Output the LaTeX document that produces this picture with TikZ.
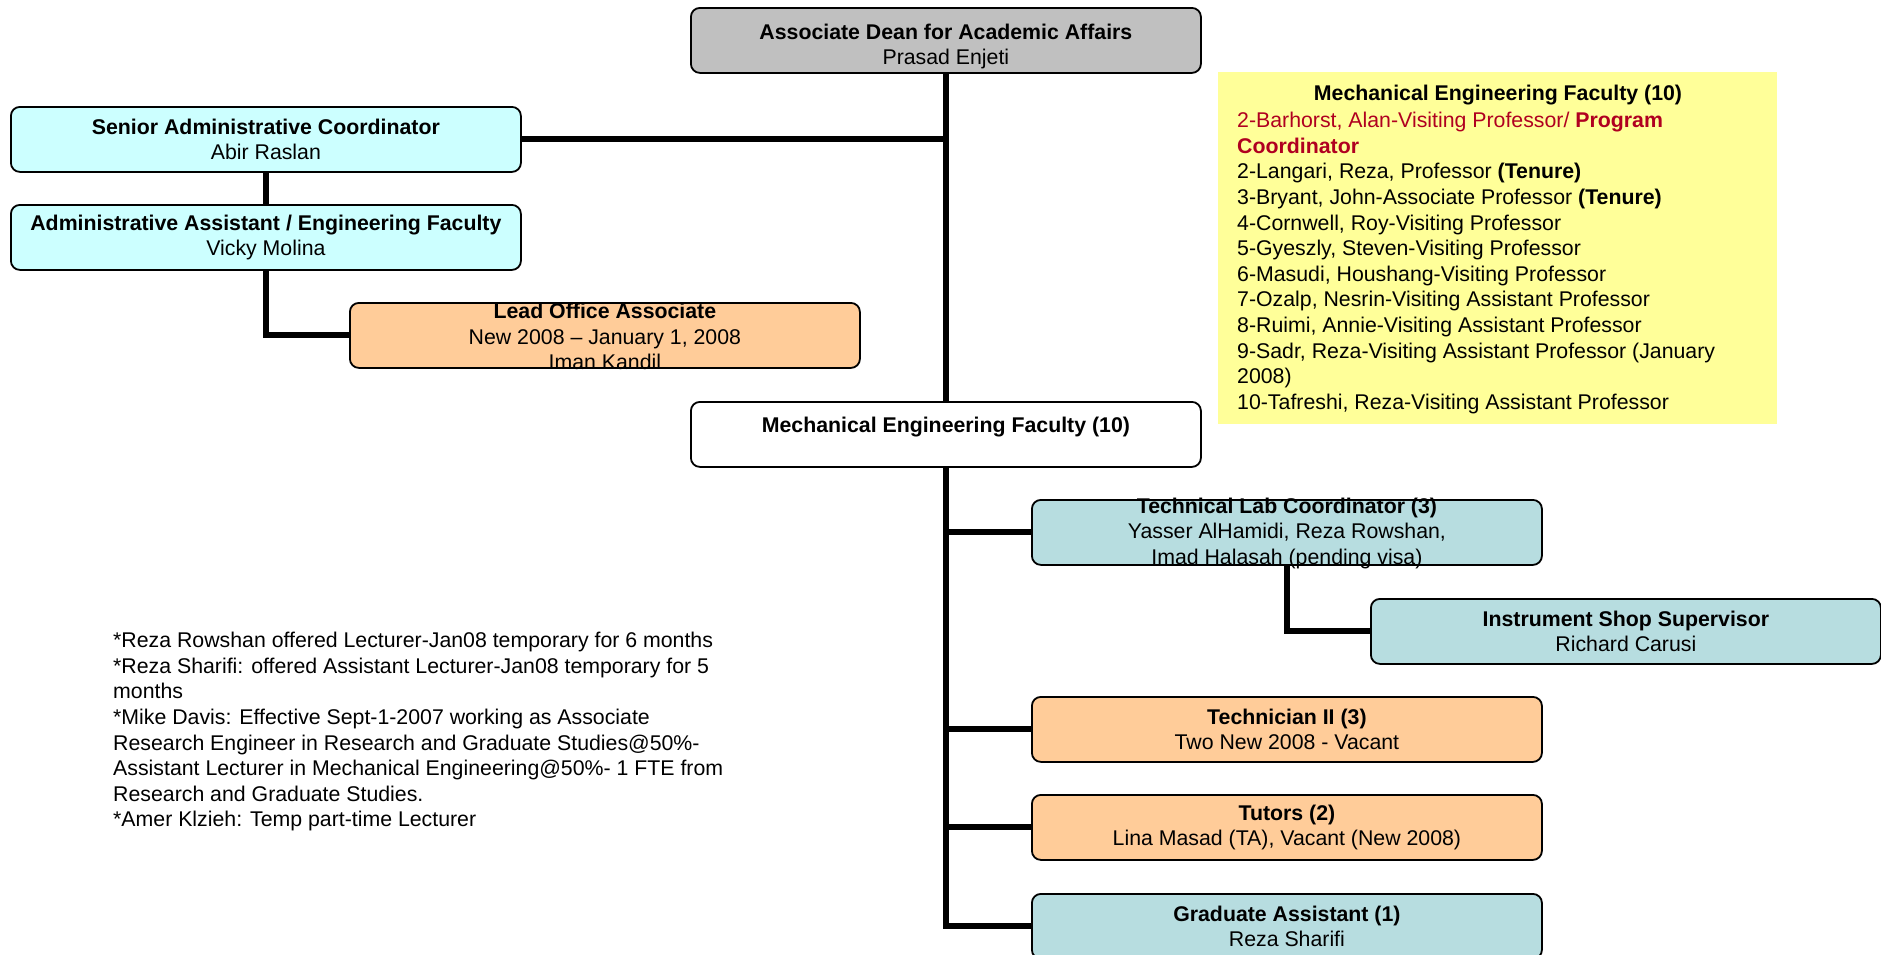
\documentclass[tikz,border=0pt]{standalone}
\usepackage{fontspec}
\setmainfont{Liberation Sans}
\usetikzlibrary{backgrounds}
\definecolor{deangray}{HTML}{C0C0C0}
\definecolor{admcyan}{HTML}{CCFFFF}
\definecolor{peach}{HTML}{FFCC99}
\definecolor{labblue}{HTML}{B7DDE0}
\definecolor{noteyellow}{HTML}{FFFF99}
\definecolor{darkred}{RGB}{176,0,32}
\begin{document}
\begin{tikzpicture}[x=1pt,y=-1pt,
  box/.style={draw=black, line width=1.8pt, rounded corners=9pt, minimum width=510pt, minimum height=65pt, inner sep=0pt, anchor=north west},
  txt/.style={align=center, font=\fontsize{21.3}{25.6}\selectfont, inner sep=0pt},
  ltxt/.style={align=left, font=\fontsize{21.3}{25.6}\selectfont, inner sep=0pt, anchor=north west},
  conn/.style={line width=6pt}]
\useasboundingbox (0,0) rectangle (1881,954);
\clip (0,0) rectangle (1881,954);

% boxes
\node[box, fill=deangray] (dean) at (690,7) {};
\node[txt] (deant) at ([yshift=-6pt]dean.center) {\textbf{Associate Dean for Academic Affairs}\\Prasad Enjeti};

\node[box, fill=admcyan] (senior) at (10,106) {};
\node[txt] (seniort) at (senior.center) {\textbf{Senior Administrative Coordinator}\\Abir Raslan};

\node[box, fill=admcyan] (admin) at (10,204) {};
\node[txt] (admint) at (admin.center) {\textbf{Administrative Assistant / Engineering Faculty}\\Vicky Molina};

\node[box, fill=peach] (lead) at (349,302) {};
\node[txt] (leadt) at ([yshift=-1pt]lead.center) {\textbf{Lead Office Associate}\\New 2008 – January 1, 2008\\Iman Kandil};

\node[box, fill=white] (mech) at (690,401) {};
\node[txt] (mecht) at ([yshift=7pt]mech.center) {\textbf{Mechanical Engineering Faculty (10)}};

\node[box, fill=labblue] (tech) at (1031,499) {};
\node[txt] (techt) at ([yshift=-1pt]tech.center) {\textbf{Technical Lab Coordinator (3)}\\Yasser AlHamidi, Reza Rowshan,\\Imad Halasah (pending visa)};

\node[box, fill=labblue] (inst) at (1370,598) {};
\node[txt] (instt) at (inst.center) {\textbf{Instrument Shop Supervisor}\\Richard Carusi};

\node[box, fill=peach] (techn) at (1031,696) {};
\node[txt] (technt) at (techn.center) {\textbf{Technician II (3)}\\Two New 2008 - Vacant};

\node[box, fill=peach] (tutors) at (1031,794) {};
\node[txt] (tutorst) at (tutors.center) {\textbf{Tutors (2)}\\Lina Masad (TA), Vacant (New 2008)};

\node[box, fill=labblue] (grad) at (1031,893) {};
\node[txt] (gradt) at (grad.center) {\textbf{Graduate Assistant (1)}\\Reza Sharifi};

% yellow faculty list
\node[fill=noteyellow, minimum width=559pt, minimum height=352pt, inner sep=0pt, anchor=north west] (ylw) at (1218,72) {};
\node[txt] (ylwh) at (1498,95) {\textbf{Mechanical Engineering Faculty (10)}};
\node[ltxt] (ylwl) at (1237,112) {\textcolor{darkred}{2-Barhorst, Alan-Visiting Professor/ \textbf{Program}}\\
\textcolor{darkred}{\textbf{Coordinator}}\\
2-Langari, Reza, Professor \textbf{(Tenure)}\\
3-Bryant, John-Associate Professor \textbf{(Tenure)}\\
4-Cornwell, Roy-Visiting Professor\\
5-Gyeszly, Steven-Visiting Professor\\
6-Masudi, Houshang-Visiting Professor\\
7-Ozalp, Nesrin-Visiting Assistant Professor\\
8-Ruimi, Annie-Visiting Assistant Professor\\
9-Sadr, Reza-Visiting Assistant Professor (January\\
2008)\\
10-Tafreshi, Reza-Visiting Assistant Professor};

% notes
\node[ltxt] (notes) at (113,632) {*Reza Rowshan offered Lecturer-Jan08 temporary for 6 months\\
*Reza Sharifi: offered Assistant Lecturer-Jan08 temporary for 5\\
months\\
*Mike Davis: Effective Sept-1-2007 working as Associate\\
Research Engineer in Research and Graduate Studies@50\%-\\
Assistant Lecturer in Mechanical Engineering@50\%- 1 FTE from\\
Research and Graduate Studies.\\
*Amer Klzieh: Temp part-time Lecturer};

% connectors (behind the boxes)
\begin{scope}[on background layer]
\fill[white] (0,0) rectangle (1881,954);
\draw[conn] (dean.south) -- (mech.north);
\draw[conn] (senior.east) -- (senior.east -| dean.south);
\draw[conn] (senior.south) -- (admin.north);
\draw[conn] (admin.south) |- (lead.west);
\draw[conn] (mech.south) |- (grad.west);
\draw[conn] (mech.south |- tech.west) -- (tech.west);
\draw[conn] (mech.south |- techn.west) -- (techn.west);
\draw[conn] (mech.south |- tutors.west) -- (tutors.west);
\draw[conn] (tech.south) |- (inst.west);
\end{scope}
\end{tikzpicture}
\end{document}
